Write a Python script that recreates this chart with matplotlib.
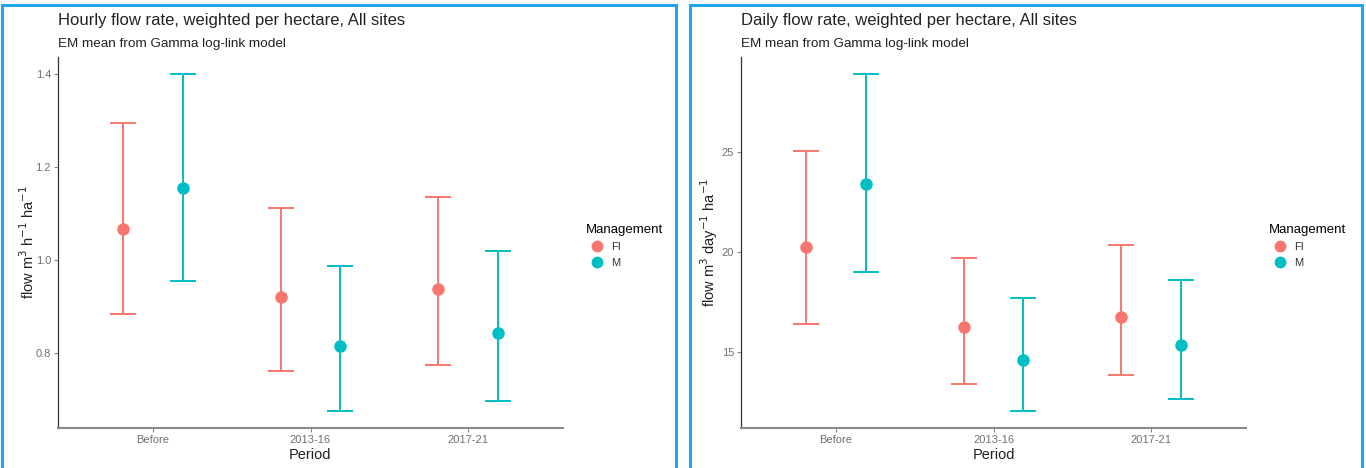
import numpy as np
import matplotlib
matplotlib.use('Agg')
import matplotlib.pyplot as plt
from matplotlib.patches import Rectangle
from matplotlib.lines import Line2D

plt.rcParams['font.family'] = ['Liberation Sans', 'DejaVu Sans']

# data
periods = ['Before', '2013-16', '2017-21']
groups = ['FI', 'M']
colors = ['#F8766D', '#00BFC4']

# hourly flow, m3 h-1 ha-1
hour_mean_fi = [1.068, 0.920, 0.938]
hour_low_fi = [0.885, 0.762, 0.776]
hour_up_fi = [1.294, 1.113, 1.136]
hour_mean_m = [1.156, 0.816, 0.844]
hour_low_m = [0.956, 0.676, 0.698]
hour_up_m = [1.400, 0.988, 1.020]

# daily flow, m3 day-1 ha-1
day_mean_fi = [20.25, 16.22, 16.75]
day_low_fi = [16.40, 13.38, 13.85]
day_up_fi = [25.03, 19.70, 20.35]
day_mean_m = [23.38, 14.57, 15.35]
day_low_m = [18.98, 12.03, 12.63]
day_up_m = [28.88, 17.70, 18.60]

W, H = 1366, 468
fig = plt.figure(figsize=(W/100, H/100), dpi=100)
fig.patch.set_facecolor('white')

# blue frames round each panel
for x0, x1 in [(2, 676), (690, 1362)]:
    fig.add_artist(Rectangle((x0/W, -0.02), (x1-x0)/W, 1-5/H+0.02,
                             transform=fig.transFigure, fill=False,
                             edgecolor='#1fa6ee', linewidth=2.2))


def panel(left, title, ylabel, means, lows, ups, yticks, ylx):
    ax = fig.add_axes([left/W, 1-428/H, 505/W, 371/H])
    x = np.arange(1, len(periods)+1)
    dodge = [-0.19, 0.19]
    for g in range(2):
        m = np.array(means[g]); lo = np.array(lows[g]); hi = np.array(ups[g])
        ax.errorbar(x + dodge[g], m, yerr=[m - lo, hi - m], fmt='o',
                    color=colors[g], ecolor=colors[g], elinewidth=1.4,
                    capsize=9.5, capthick=1.4, markersize=8, zorder=3)
    allv = np.concatenate([np.ravel(lows), np.ravel(ups)])
    pad = (allv.max() - allv.min())*0.05
    ax.set_ylim(allv.min()-pad, allv.max()+pad)
    ax.set_xlim(0.4, 3.6)
    ax.set_xticks(x)
    ax.set_xticklabels(periods)
    ax.set_yticks(yticks)
    ax.spines['top'].set_visible(False)
    ax.spines['right'].set_visible(False)
    ax.spines['left'].set_color('#333333')
    ax.spines['left'].set_linewidth(0.9)
    ax.spines['bottom'].set_color('#8a8a8a')
    ax.spines['bottom'].set_linewidth(1.5)
    ax.tick_params(length=3, width=0.8, color='#888888', labelcolor='#707070',
                   labelsize=8, pad=2)
    ax.set_xlabel('Period', fontsize=10.5, color='#222222', labelpad=2)
    ax.set_ylabel(ylabel, fontsize=10.5, color='#222222')
    ax.yaxis.set_label_coords((ylx - left)/505, 0.5)
    fig.text(left/W, 1-20/H, title, fontsize=12, color='#222222', va='center')
    fig.text(left/W, 1-44/H, 'EM mean from Gamma log-link model', fontsize=9.7,
             color='#222222', va='center')
    handles = [Line2D([], [], marker='o', linestyle='none', color=c,
                      markersize=7.5) for c in colors]
    leg = ax.legend(handles, groups, title='Management', loc='center left',
                    bbox_to_anchor=(1.035, 0.49), frameon=False, fontsize=8,
                    title_fontsize=9.5, handletextpad=0.2, labelspacing=0.55,
                    alignment='left', borderpad=0)
    for t in leg.get_texts():
        t.set_color('#333333')
    return ax


panel(58, 'Hourly flow rate, weighted per hectare, All sites',
      r'flow m$^{3}$ h$^{-1}$ ha$^{-1}$',
      [hour_mean_fi, hour_mean_m], [hour_low_fi, hour_low_m],
      [hour_up_fi, hour_up_m], [0.8, 1.0, 1.2, 1.4], 37)

panel(741, 'Daily flow rate, weighted per hectare, All sites',
      r'flow m$^{3}$ day$^{-1}$ ha$^{-1}$',
      [day_mean_fi, day_mean_m], [day_low_fi, day_low_m],
      [day_up_fi, day_up_m], [15, 20, 25], 720)

fig.savefig('out.png', dpi=100)
